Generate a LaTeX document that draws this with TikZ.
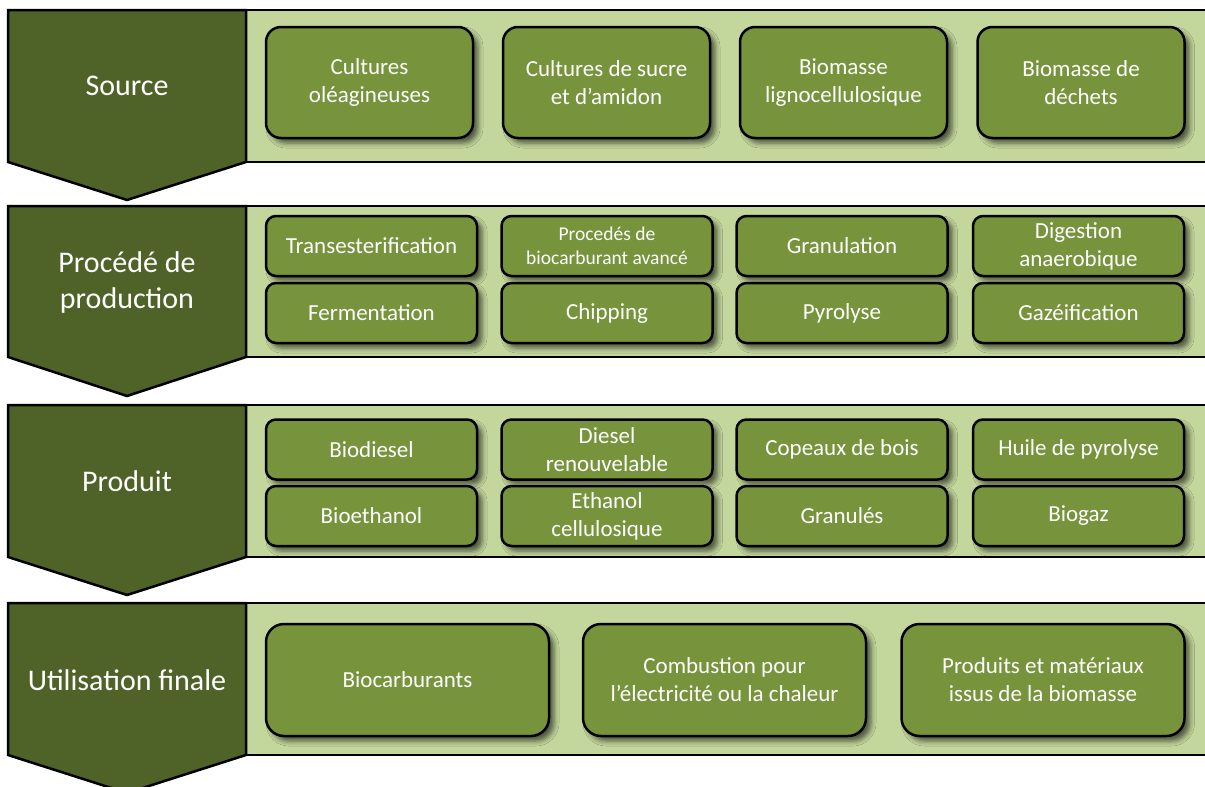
\documentclass[tikz,border=0pt]{standalone}
\usepackage{fontspec}
\setmainfont{Carlito}
\usetikzlibrary{shadows,shadows.blur}

\definecolor{darkolive}{HTML}{4F6228}
\definecolor{lightolive}{HTML}{C3D69B}
\definecolor{midolive}{HTML}{77933C}

\begin{document}
\begin{tikzpicture}[
    x=1pt, y=-1pt,
    band/.style={draw, line width=1.5pt, fill=lightolive},
    chevron/.style={draw, line width=2.5pt, fill=darkolive, line join=miter},
    stage/.style={text=white, align=center, font=\fontsize{30}{36}\selectfont},
    box/.style={rectangle, draw, line width=2.5pt, fill=midolive, text=white, align=center, inner sep=0pt,
        rounded corners=15pt, minimum width=207pt, minimum height=111pt, font=\fontsize{23}{28}\selectfont,
        blur shadow={shadow xshift=5pt, shadow yshift=-5pt, shadow blur radius=5pt, shadow opacity=60}},
    small/.style={box, minimum width=211pt, minimum height=60pt, rounded corners=10pt},
    wide/.style={box, minimum width=283pt, minimum height=112pt, rounded corners=18pt}
]
\clip (0,0) rectangle (1205,787);

% Bands
\draw[band] (246,10) rectangle (1220,162);
\draw[band] (246,206) rectangle (1220,357);
\draw[band] (246,405) rectangle (1220,557);
\draw[band] (246,603) rectangle (1220,755);

% Stage chevrons
\draw[chevron] (8,10) -- (246,10) -- (246,162) -- (127,200) -- (8,162) -- cycle;
\node[stage] (source) at (127,86) {Source};

\draw[chevron] (8,206) -- (246,206) -- (246,357) -- (127,396) -- (8,357) -- cycle;
\node[stage] (procede) at (127,282) {Procédé de\\production};

\draw[chevron] (8,405) -- (246,405) -- (246,557) -- (127,595) -- (8,557) -- cycle;
\node[stage] (produit) at (127,481) {Produit};

\draw[chevron] (8,603) -- (246,603) -- (246,755) -- (127,793) -- (8,755) -- cycle;
\node[stage] (utilisation) at (127,680) {Utilisation finale};

% Source boxes
\node[box] (oleag) at (369.5,82.5) {Cultures\\oléagineuses};
\node[box] (sucre) at (606.5,82.5) {Cultures de sucre\\et d'amidon};
\node[box] (ligno) at (843.5,82.5) {Biomasse\\lignocellulosique};
\node[box] (dechets) at (1081,82.5) {Biomasse de\\déchets};

% Process boxes
\node[small] (transest) at (371.5,246) {Transesterification};
\node[small, font=\fontsize{19.5}{24}\selectfont] (avance) at (607,246) {Procedés de\\biocarburant avancé};
\node[small] (granulation) at (842,246) {Granulation};
\node[small] (digestion) at (1078.5,246) {Digestion\\anaerobique};
\node[small] (fermentation) at (371.5,313) {Fermentation};
\node[small] (chipping) at (607,313) {Chipping};
\node[small] (pyrolyse) at (842,313) {Pyrolyse};
\node[small] (gazeif) at (1078.5,313) {Gazéification};

% Product boxes
\node[small] (biodiesel) at (371.5,449.5) {Biodiesel};
\node[small] (renouv) at (607,449.5) {Diesel\\renouvelable};
\node[small] (copeaux) at (842,449.5) {Copeaux de bois};
\node[small] (huile) at (1078.5,449.5) {Huile de pyrolyse};
\node[small] (bioethanol) at (371.5,516) {Bioethanol};
\node[small] (cellulo) at (607,516) {Ethanol\\cellulosique};
\node[small] (granules) at (842,516) {Granulés};
\node[small] (biogaz) at (1078.5,516) {Biogaz};

% End use boxes
\node[wide] (biocarb) at (407.5,680) {Biocarburants};
\node[wide] (combustion) at (724.5,680) {Combustion pour\\l’électricité ou la chaleur};
\node[wide] (materiaux) at (1043,680) {Produits et matériaux\\issus de la biomasse};

\end{tikzpicture}
\end{document}
